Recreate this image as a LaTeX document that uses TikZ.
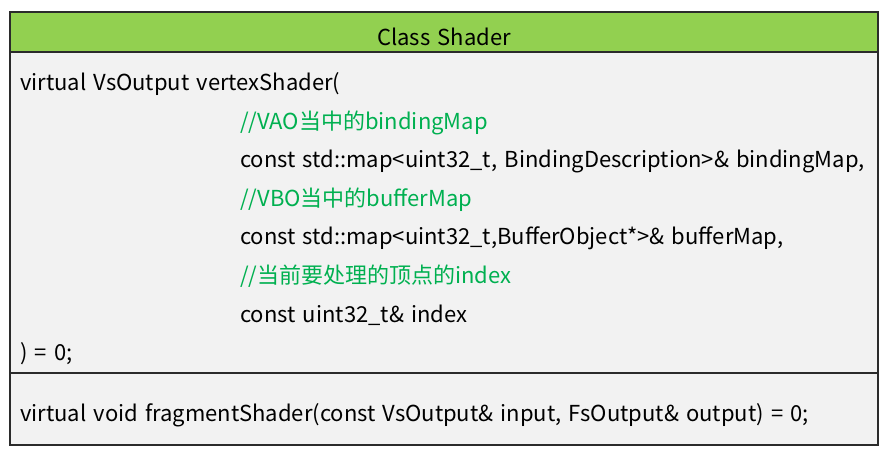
\documentclass[tikz,border=0pt]{standalone}
\usepackage{fontspec}
\setmainfont[WordSpace=1.45]{Noto Sans CJK SC}
\definecolor{hdrgreen}{HTML}{92D050}
\definecolor{bodygray}{HTML}{F2F2F2}
\definecolor{cmtgreen}{HTML}{00B050}
\definecolor{frame}{HTML}{2B2B2B}
\begin{document}
\begin{tikzpicture}[x=1pt,y=-1pt,
  code/.style={anchor=base west,inner sep=0pt,font=\fontsize{22}{26}\selectfont,text=black},
  cmt/.style={code,text=cmtgreen},
  boxline/.style={draw=frame,line width=1.6pt}]
\useasboundingbox (0,0) rectangle (888,454);
\fill[bodygray] (10,52) rectangle (878,445);
\fill[hdrgreen] (10,12) rectangle (878,52);
\draw[boxline] (10,12) rectangle (878,445);
\draw[boxline] (10,52) -- (878,52);
\draw[boxline] (10,373) -- (878,373);
\node[code,anchor=base] (title) at (444,46) {Class Shader};
\node[code] (l1) at (20,91) {virtual VsOutput vertexShader(};
\node[cmt]  (l2) at (240,129.5) {//VAO当中的bindingMap};
\node[code] (l3) at (240,168) {const std::map<uint32\_t, BindingDescription>\& bindingMap,};
\node[cmt]  (l4) at (240,206.5) {//VBO当中的bufferMap};
\node[code] (l5) at (240,245) {const std::map<uint32\_t,BufferObject*>\& bufferMap,};
\node[cmt]  (l6) at (240,283.5) {//当前要处理的顶点的index};
\node[code] (l7) at (240,322) {const uint32\_t\& index};
\node[code] (l8) at (20,360.5) {) = 0;};
\node[code] (l9) at (20,421) {virtual void fragmentShader(const VsOutput\& input, FsOutput\& output) = 0;};
\end{tikzpicture}
\end{document}
